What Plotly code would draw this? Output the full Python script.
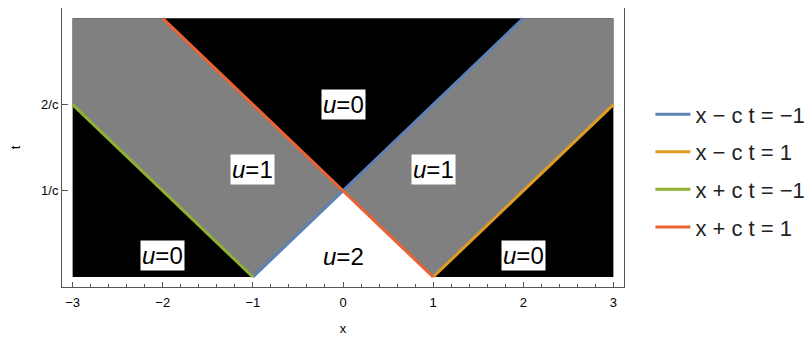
import plotly.graph_objects as go

# region polygons (x, t) with c = 1
black_x = [-3, 3, 3, -3]
black_t = [0, 0, 3, 3]
white_x = [-1, 1, 0]
white_t = [0, 0, 1]
gray_left_x = [-1, 0, -2, -3, -3]
gray_left_t = [0, 1, 3, 3, 2]
gray_right_x = [1, 3, 3, 2, 0]
gray_right_t = [0, 2, 3, 3, 1]

# characteristic lines
line_names = ["x \u2212 c t = \u22121", "x \u2212 c t = 1", "x + c t = \u22121", "x + c t = 1"]
line_x = [[-1, 2], [1, 3], [-1, -3], [1, -2]]
line_t = [[0, 3], [0, 2], [0, 2], [0, 3]]
line_colors = ["#5E81B5", "#E19C24", "#8FB032", "#EB6235"]

# region labels
label_text = ["<i>u</i>=0", "<i>u</i>=1", "<i>u</i>=1", "<i>u</i>=0", "<i>u</i>=2", "<i>u</i>=0"]
label_x = [0, -1, 1, -2, 0, 2]
label_t = [2.0, 1.25, 1.25, 0.25, 0.24, 0.25]

font = "Liberation Sans, Arial, sans-serif"

fig = go.Figure()
for px_, pt_, col in [(black_x, black_t, "black"), (gray_left_x, gray_left_t, "#808080"),
                      (gray_right_x, gray_right_t, "#808080"), (white_x, white_t, "white")]:
    fig.add_trace(go.Scatter(x=px_, y=pt_, fill="toself", fillcolor=col, mode="none",
                             showlegend=False, hoverinfo="skip"))

for i, name in enumerate(line_names):
    fig.add_trace(go.Scatter(x=line_x[i], y=line_t[i], mode="lines", name=name,
                             line=dict(color=line_colors[i], width=3),
                             legendgroup=str(i)))

for s, lx, lt in zip(label_text, label_x, label_t):
    fig.add_annotation(x=lx, y=lt, text=s, showarrow=False, bgcolor="white",
                       borderpad=1, font=dict(size=24, color="black", family=font))

# page has an 8px body margin, so the figure is 804x329
fig.update_layout(
    width=804, height=329,
    margin=dict(l=54, r=188, t=0, b=50),
    plot_bgcolor="white", paper_bgcolor="white",
    font=dict(family=font, size=13, color="black"),
    legend=dict(xref="container", yref="container", x=0.799, y=0.505,
                xanchor="left", yanchor="middle", tracegroupgap=6, itemwidth=35,
                font=dict(size=22, color="#222")),
)
fig.update_xaxes(range=[-3.118, 3.118], showgrid=False, zeroline=False, automargin=False,
                 showline=True, linecolor="#555", linewidth=1, mirror=True,
                 ticks="inside", ticklen=5, tickcolor="#555", dtick=1, tick0=0,
                 ticklabelstandoff=3,
                 minor=dict(ticks="inside", ticklen=3, dtick=0.2, tick0=0, tickcolor="#555"),
                 title=dict(text="x", font=dict(size=13), standoff=15))
fig.update_yaxes(range=[-0.116, 3.12], showgrid=False, zeroline=False, automargin=False,
                 showline=True, linecolor="#555", linewidth=1, mirror=True,
                 ticks="inside", ticklen=6, tickcolor="#555",
                 tickvals=[1, 2], ticktext=["1/c", "2/c"],
                 title=dict(text="t", font=dict(size=13), standoff=22))

fig.write_html("out.html")
